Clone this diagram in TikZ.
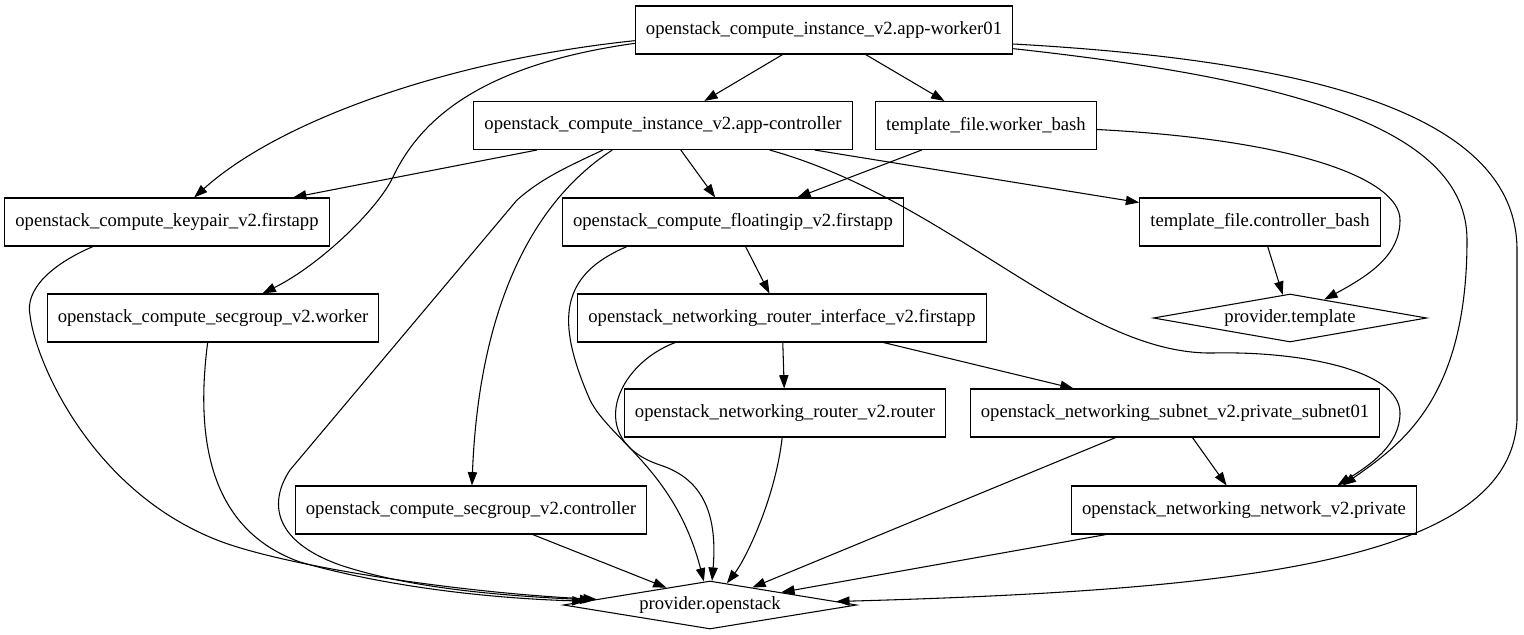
\documentclass[tikz,border=0pt]{standalone}
\usepackage{fontspec}
\setmainfont{Liberation Serif}
\usepackage{tikz}
\usetikzlibrary{shapes.geometric,arrows.meta}

\begin{document}
\begin{tikzpicture}[
        x=0.75pt, y=-0.75pt,
        res/.style={rectangle, draw, line width=0.8pt, minimum height=36pt, inner xsep=8pt, font=\fontsize{14pt}{16pt}\selectfont},
        prov/.style={diamond, draw, line width=0.8pt, minimum height=36pt, inner sep=0pt, aspect=6, font=\fontsize{14pt}{16pt}\selectfont},
        edge/.style={draw, line width=0.8pt, -{Triangle[length=10pt, width=7pt]}}
    ]
        \useasboundingbox (0,0) rectangle (1524,635);

        % Nodes
        \node[res] (worker01) at (824,30) {openstack\_compute\_instance\_v2.app-worker01};
        \node[res] (controller) at (663,125.5) {openstack\_compute\_instance\_v2.app-controller};
        \node[res] (workerbash) at (986,125.5) {template\_file.worker\_bash};
        \node[res] (keypair) at (167,222) {openstack\_compute\_keypair\_v2.firstapp};
        \node[res] (floatingip) at (733,222) {openstack\_compute\_floatingip\_v2.firstapp};
        \node[res] (ctrlbash) at (1260,222) {template\_file.controller\_bash};
        \node[res] (sgworker) at (213,318) {openstack\_compute\_secgroup\_v2.worker};
        \node[res] (rtrif) at (782,318) {openstack\_networking\_router\_interface\_v2.firstapp};
        \node[prov, minimum width=205pt] (ptemplate) at (1290,318) {provider.template};
        \node[res] (router) at (785,413) {openstack\_networking\_router\_v2.router};
        \node[res] (subnet) at (1175,413) {openstack\_networking\_subnet\_v2.private\_subnet01};
        \node[res] (sgctrl) at (471,510) {openstack\_compute\_secgroup\_v2.controller};
        \node[res] (network) at (1244,510) {openstack\_networking\_network\_v2.private};
        \node[prov, minimum width=220pt] (popenstack) at (710,605) {provider.openstack};

        % Edges
        \draw[edge] (worker01) -- (controller);
        \draw[edge] (worker01) -- (workerbash);
        \draw[edge] ([yshift=-8pt]worker01.west) .. controls (450,60) and (280,120) .. (keypair);
        \draw[edge] ([yshift=-10pt]worker01.west) .. controls (480,65) and (420,120) .. (393,177)
            .. controls (378,209) and (320,265) .. (sgworker);
        \draw[edge] ([yshift=-14pt]worker01.east) .. controls (1300,80) and (1467,130) .. (1467,240)
            .. controls (1467,400) and (1400,445) .. ([xshift=74pt]network.north);
        \draw[edge] ([yshift=-10.5pt]worker01.east) .. controls (1300,60) and (1517,110) .. (1517,250)
            -- (1517,420) .. controls (1510,560) and (1250,590) .. (popenstack);

        \draw[edge] (controller) -- (keypair);
        \draw[edge] (controller) -- (floatingip);
        \draw[edge] (controller) -- (ctrlbash);
        \draw[edge] ([xshift=-38pt]controller.south) .. controls (520,210) and (478,330) .. (sgctrl);
        \draw[edge] ([xshift=80pt]controller.south) .. controls (950,200) and (1080,355) .. (1213,353)
            .. controls (1300,351) and (1400,370) .. (1400,413)
            .. controls (1400,445) and (1370,465) .. ([xshift=70pt]network.north);
        \draw[edge] ([xshift=-45pt]controller.south) .. controls (560,170) and (540,180) .. (517,200)
            -- (290,470) .. controls (270,500) and (270,540) .. (340,565)
            .. controls (400,585) and (480,595) .. (popenstack);

        \draw[edge] (workerbash) -- (floatingip);
        \draw[edge] ([yshift=-3pt]workerbash.east) .. controls (1300,140) and (1400,180) .. (1400,220)
            .. controls (1400,255) and (1370,275) .. (ptemplate);

        \draw[edge] ([xshift=-55.5pt]keypair.south) .. controls (50,265) and (25,290) .. (30,315)
            .. controls (35,360) and (90,490) .. (217,540)
            .. controls (280,565) and (450,592) .. (popenstack);
        \draw[edge] ([xshift=-4pt]sgworker.south) .. controls (195,440) and (210,530) .. (300,562)
            .. controls (380,585) and (480,598) .. (popenstack);

        \draw[edge] (floatingip) -- (rtrif);
        \draw[edge] ([xshift=-79.5pt]floatingip.south) .. controls (560,275) and (555,320) .. (590,400)
            .. controls (610,440) and (675,470) .. (popenstack);
        \draw[edge] (ctrlbash) -- (ptemplate);

        \draw[edge] (rtrif) -- (router);
        \draw[edge] (rtrif) -- (subnet);
        \draw[edge] ([xshift=-80pt]rtrif.south) .. controls (615,365) and (585,440) .. (660,465)
            .. controls (700,478) and (718,510) .. (popenstack);

        \draw[edge] (router) .. controls (775,500) and (745,560) .. (popenstack);
        \draw[edge] (subnet) -- (network);
        \draw[edge] (subnet) -- (popenstack);
        \draw[edge] (sgctrl) -- (popenstack);
        \draw[edge] (network) -- (popenstack);
    \end{tikzpicture}
\end{document}
